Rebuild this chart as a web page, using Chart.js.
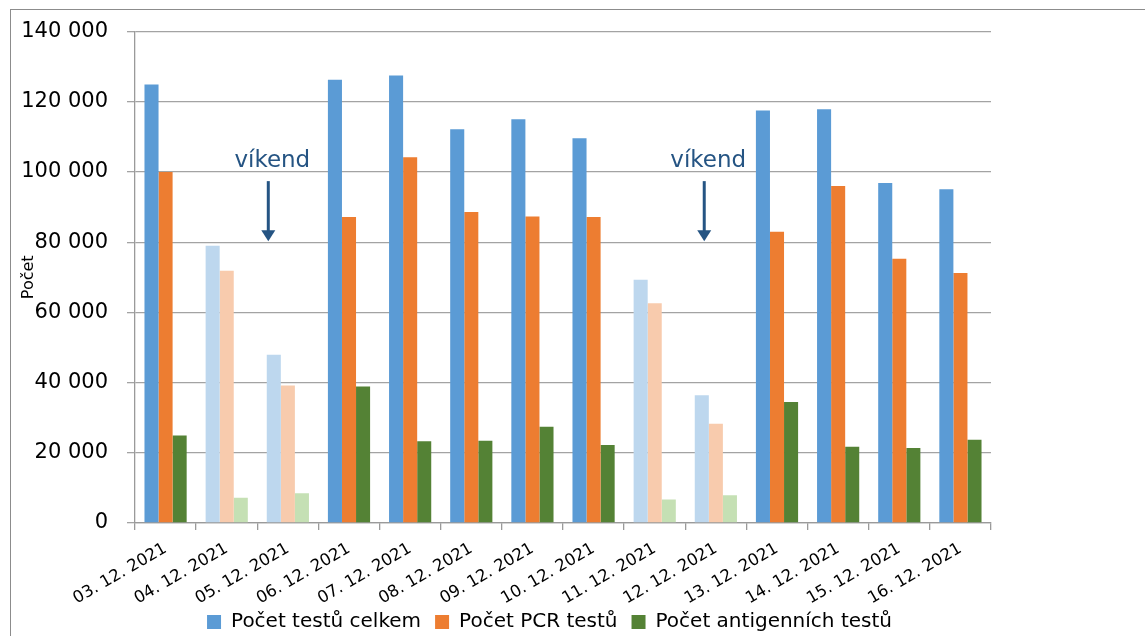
<!DOCTYPE html>
<html><head><meta charset="utf-8">
<script src="https://cdn.jsdelivr.net/npm/chart.js@4.4.0/dist/chart.umd.min.js"></script>
<style>
html,body{margin:0;padding:0;background:#fff;}
#wrap{position:relative;width:1145px;height:636px;overflow:hidden;}
#frame{position:absolute;left:10px;top:9px;width:1300px;height:800px;border-left:1.5px solid #8c8c8c;border-top:1.5px solid #8c8c8c;}
#c{position:absolute;left:0;top:0;}
</style></head><body>
<div id="wrap"><div id="frame"></div><canvas id="c" width="1145" height="636"></canvas></div>
<script>
const categories = ['03. 12. 2021','04. 12. 2021','05. 12. 2021','06. 12. 2021','07. 12. 2021','08. 12. 2021','09. 12. 2021','10. 12. 2021','11. 12. 2021','12. 12. 2021','13. 12. 2021','14. 12. 2021','15. 12. 2021','16. 12. 2021'];
const totalTests   = [124900, 79000, 47900, 126300, 127500, 112200, 115000, 109600, 69300, 36400, 117500, 117900, 96900, 95100];
const pcrTests     = [100000, 71900, 39200, 87200, 104200, 88600, 87300, 87200, 62600, 28300, 83000, 96000, 75300, 71200];
const antigenTests = [24900, 7200, 8500, 38900, 23300, 23400, 27400, 22200, 6700, 7900, 34500, 21700, 21400, 23700];
const weekendDays  = [false, true, true, false, false, false, false, false, true, true, false, false, false, false];
const seriesNames  = ['Počet testů celkem', 'Počet PCR testů', 'Počet antigenních testů'];
const yMax = 140000;
const yStep = 20000;
const weekendNotes = [{pos: 1.68, text: 'víkend'}, {pos: 8.81, text: 'víkend'}];
const noteBaselineValue = 101400, arrowFromValue = 97400, arrowToValue = 80300;

const strongColors = ['#5b9bd5', '#ed7d31', '#548235'];
const lightColors  = ['#bdd7ee', '#f8cbad', '#c5e0b4'];
const seriesData = [totalTests, pcrTests, antigenTests];

Chart.defaults.font.family = "'DejaVu Sans', sans-serif";
Chart.defaults.color = '#000';

const fmt = v => String(v).replace(/\B(?=(\d{3})+(?!\d))/g, ' ');

const notePlugin = {
  id: 'notes',
  afterLayout(chart) {
    // let the rotated date labels reach a little into the legend band without being clipped
    chart.scales.x.bottom += 14;
  },
  afterDatasetsDraw(chart) {
    const {ctx, scales: {x, y}} = chart;
    ctx.save();
    weekendNotes.forEach(n => {
      const i = Math.floor(n.pos), f = n.pos - i;
      const p0 = x.getPixelForValue(i), p1 = x.getPixelForValue(i + 1);
      const px = p0 + f * (p1 - p0);
      const col = '#255483';
      ctx.fillStyle = col;
      ctx.strokeStyle = col;
      ctx.font = "23px 'DejaVu Sans'";
      ctx.textAlign = 'center';
      ctx.textBaseline = 'alphabetic';
      ctx.fillText(n.text, px + 4, y.getPixelForValue(noteBaselineValue));
      const yA = y.getPixelForValue(arrowFromValue), yB = y.getPixelForValue(arrowToValue);
      ctx.lineWidth = 3;
      ctx.beginPath();
      ctx.moveTo(px, yA);
      ctx.lineTo(px, yB - 8);
      ctx.stroke();
      ctx.beginPath();
      ctx.moveTo(px - 7, yB - 11);
      ctx.lineTo(px + 7, yB - 11);
      ctx.lineTo(px, yB);
      ctx.closePath();
      ctx.fill();
    });
    ctx.restore();
  }
};

new Chart(document.getElementById('c'), {
  type: 'bar',
  data: {
    labels: categories,
    datasets: seriesData.map((d, k) => ({
      label: seriesNames[k],
      data: d,
      backgroundColor: weekendDays.map(w => w ? lightColors[k] : strongColors[k]),
      borderWidth: 0,
      categoryPercentage: 0.69,
      barPercentage: 1.0,
      yAxisID: 'y'
    }))
  },
  options: {
    responsive: false,
    animation: false,
    devicePixelRatio: 1,
    layout: {padding: {top: 30, right: 46, bottom: 0, left: 0}},
    plugins: {
      tooltip: {enabled: false},
      legend: {
        position: 'bottom',
        maxHeight: 38,
        labels: {
          font: {size: 20},
          boxWidth: 14,
          boxHeight: 14,
          padding: 14,
          color: '#000',
          generateLabels: chart => seriesNames.map((t, k) => ({
            text: t, fillStyle: strongColors[k], strokeStyle: strongColors[k], lineWidth: 0, datasetIndex: k, hidden: false
          }))
        }
      }
    },
    scales: {
      x: {
        grid: {display: true, drawOnChartArea: false, drawTicks: true, tickLength: 7, offset: true, color: '#9a9a9a', lineWidth: 1.3},
        border: {display: true, color: '#9a9a9a', width: 1.3},
        ticks: {font: {size: 16.5}, minRotation: 30, maxRotation: 30, autoSkip: false, padding: 9, color: '#000'},
        afterFit: s => { s.height = 75; }
      },
      y: {
        min: 0, max: yMax,
        position: 'left',
        grid: {color: '#a3a3a3', lineWidth: 1.3, tickLength: 8, drawTicks: true},
        border: {display: true, color: '#9a9a9a', width: 1.3},
        ticks: {stepSize: yStep, font: {size: 21}, padding: 19, callback: v => fmt(v), color: '#000'},
        title: {display: true, text: 'Počet', font: {size: 16}, padding: {top: 19, bottom: 0}, color: '#000'},
        afterFit: s => { s.width = 135; }
      },
      spacer: {
        type: 'linear', position: 'right', display: true,
        grid: {display: false, drawOnChartArea: false},
        border: {display: false},
        ticks: {display: false},
        afterFit: s => { s.width = 108; }
      }
    }
  },
  plugins: [notePlugin]
});
</script>
</body></html>
